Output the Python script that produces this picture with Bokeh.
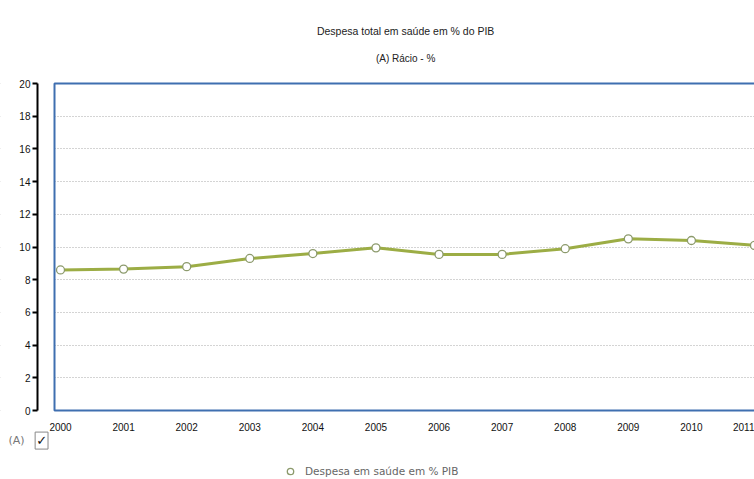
from bokeh.plotting import figure
from bokeh.models import (Range1d, FixedTicker, BoxAnnotation, Label,
                          Legend, LegendItem, ColumnDataSource)
from bokeh.embed import file_html
from bokeh.resources import INLINE

# Health expenditure as a share of GDP (%), Portugal
years = [2000, 2001, 2002, 2003, 2004, 2005, 2006, 2007, 2008, 2009, 2010, 2011]
year_labels = ["2000", "2001", "2002", "2003", "2004", "2005",
               "2006", "2007", "2008", "2009", "2010", "2011"]
despesa_pib = [8.6, 8.65, 8.8, 9.3, 9.6, 9.95, 9.55, 9.55, 9.9, 10.5, 10.4, 10.1]
y_ticks = [0, 2, 4, 6, 8, 10, 12, 14, 16, 18, 20]

source = ColumnDataSource(data=dict(ano=years, valor=despesa_pib))

# the frame fills the whole page; the axes are pinned inside it so that the
# titles, year labels, series selector and legend can all sit around the box
X0, X1 = 1999.049, 2011.0
Y0, Y1 = -4.22, 25.08
AXIS_X = 1999.635

p = figure(width=754, height=479, output_backend="svg", toolbar_location=None,
           x_range=Range1d(X0, X1), y_range=Range1d(Y0, Y1),
           min_border=0)
p.outline_line_color = None
p.background_fill_color = "white"

# dotted horizontal grid
p.xgrid.visible = False
p.ygrid.ticker = FixedTicker(ticks=y_ticks)
p.ygrid.grid_line_color = "#a9a9a9"
p.ygrid.grid_line_dash = "1 2"
p.ygrid.grid_line_width = 1

# y axis: black line with outward ticks, 0 to 20 only
p.yaxis.fixed_location = AXIS_X
p.yaxis.bounds = (0, 20)
p.yaxis.ticker = FixedTicker(ticks=y_ticks)
p.yaxis.axis_line_color = "black"
p.yaxis.axis_line_width = 2
p.yaxis.major_tick_out = 5
p.yaxis.major_tick_in = 0
p.yaxis.major_tick_line_width = 2
p.yaxis.minor_tick_line_color = None
p.yaxis.major_label_standoff = 2
p.yaxis.major_label_text_font = "Liberation Sans"
p.yaxis.major_label_text_font_size = "10px"
p.yaxis.major_label_text_color = "#111111"

# x axis: year labels only, hung from the zero line
p.xaxis.fixed_location = 0
p.xaxis.ticker = FixedTicker(ticks=years)
p.xaxis.major_label_overrides = {y: lab for y, lab in zip(years, year_labels)}
p.xaxis.axis_line_color = None
p.xaxis.major_tick_line_color = None
p.xaxis.minor_tick_line_color = None
p.xaxis.major_label_standoff = 6
p.xaxis.major_label_text_font = "Liberation Sans"
p.xaxis.major_label_text_font_size = "10px"
p.xaxis.major_label_text_color = "#111111"

# white everywhere outside the plot box, so grid lines only run inside it
p.add_layout(BoxAnnotation(right=1999.905, fill_color="white", fill_alpha=1.0,
                           line_color=None, level="underlay"))
p.add_layout(BoxAnnotation(bottom=20, fill_color="white", fill_alpha=1.0,
                           line_color=None, level="underlay"))
# blue plot box (open on the right)
p.add_layout(BoxAnnotation(left=1999.905, right=2012.0, bottom=0, top=20,
                           fill_alpha=0.0, line_color="#3f6fb0",
                           line_alpha=1.0, line_width=2))

line_r = p.line("ano", "valor", source=source, line_color="#9cad45", line_width=3)
pts_r = p.scatter("ano", "valor", source=source, size=8, marker="circle",
                  fill_color="white", line_color="#8c9a6c", line_width=1.3)

# titles
p.add_layout(Label(x=2005.47, y=23.24, text="Despesa total em saúde em % do PIB",
                   text_font="Liberation Sans", text_font_size="10.5px",
                   text_color="#222222", text_align="center", text_baseline="middle"))
p.add_layout(Label(x=2005.47, y=21.53, text="(A) Rácio - %",
                   text_font="Liberation Sans", text_font_size="10px",
                   text_color="#222222", text_align="center", text_baseline="middle"))

# series selector under the axis
p.add_layout(Label(x=1999.175, y=-1.84, text="(A)", text_font="DejaVu Sans",
                   text_font_size="11px", text_color="#777777",
                   text_baseline="middle"))
p.add_layout(Label(x=1999.70, y=-1.84, text="✓", text_font="DejaVu Sans",
                   text_font_size="13px", text_color="#111111",
                   text_align="center", text_baseline="middle",
                   border_line_color="#888888", border_line_width=1, padding=1))

legend = Legend(items=[LegendItem(label="Despesa em saúde em % PIB", renderers=[pts_r])],
                location=(280, 0), orientation="horizontal",
                border_line_color=None, background_fill_alpha=0.0,
                padding=0, margin=0, glyph_width=20, glyph_height=16,
                label_standoff=5, label_text_font="DejaVu Sans",
                label_text_font_size="10.5px", label_text_color="#666666")
p.add_layout(legend)

open("out.html", "w").write(file_html(p, INLINE))
